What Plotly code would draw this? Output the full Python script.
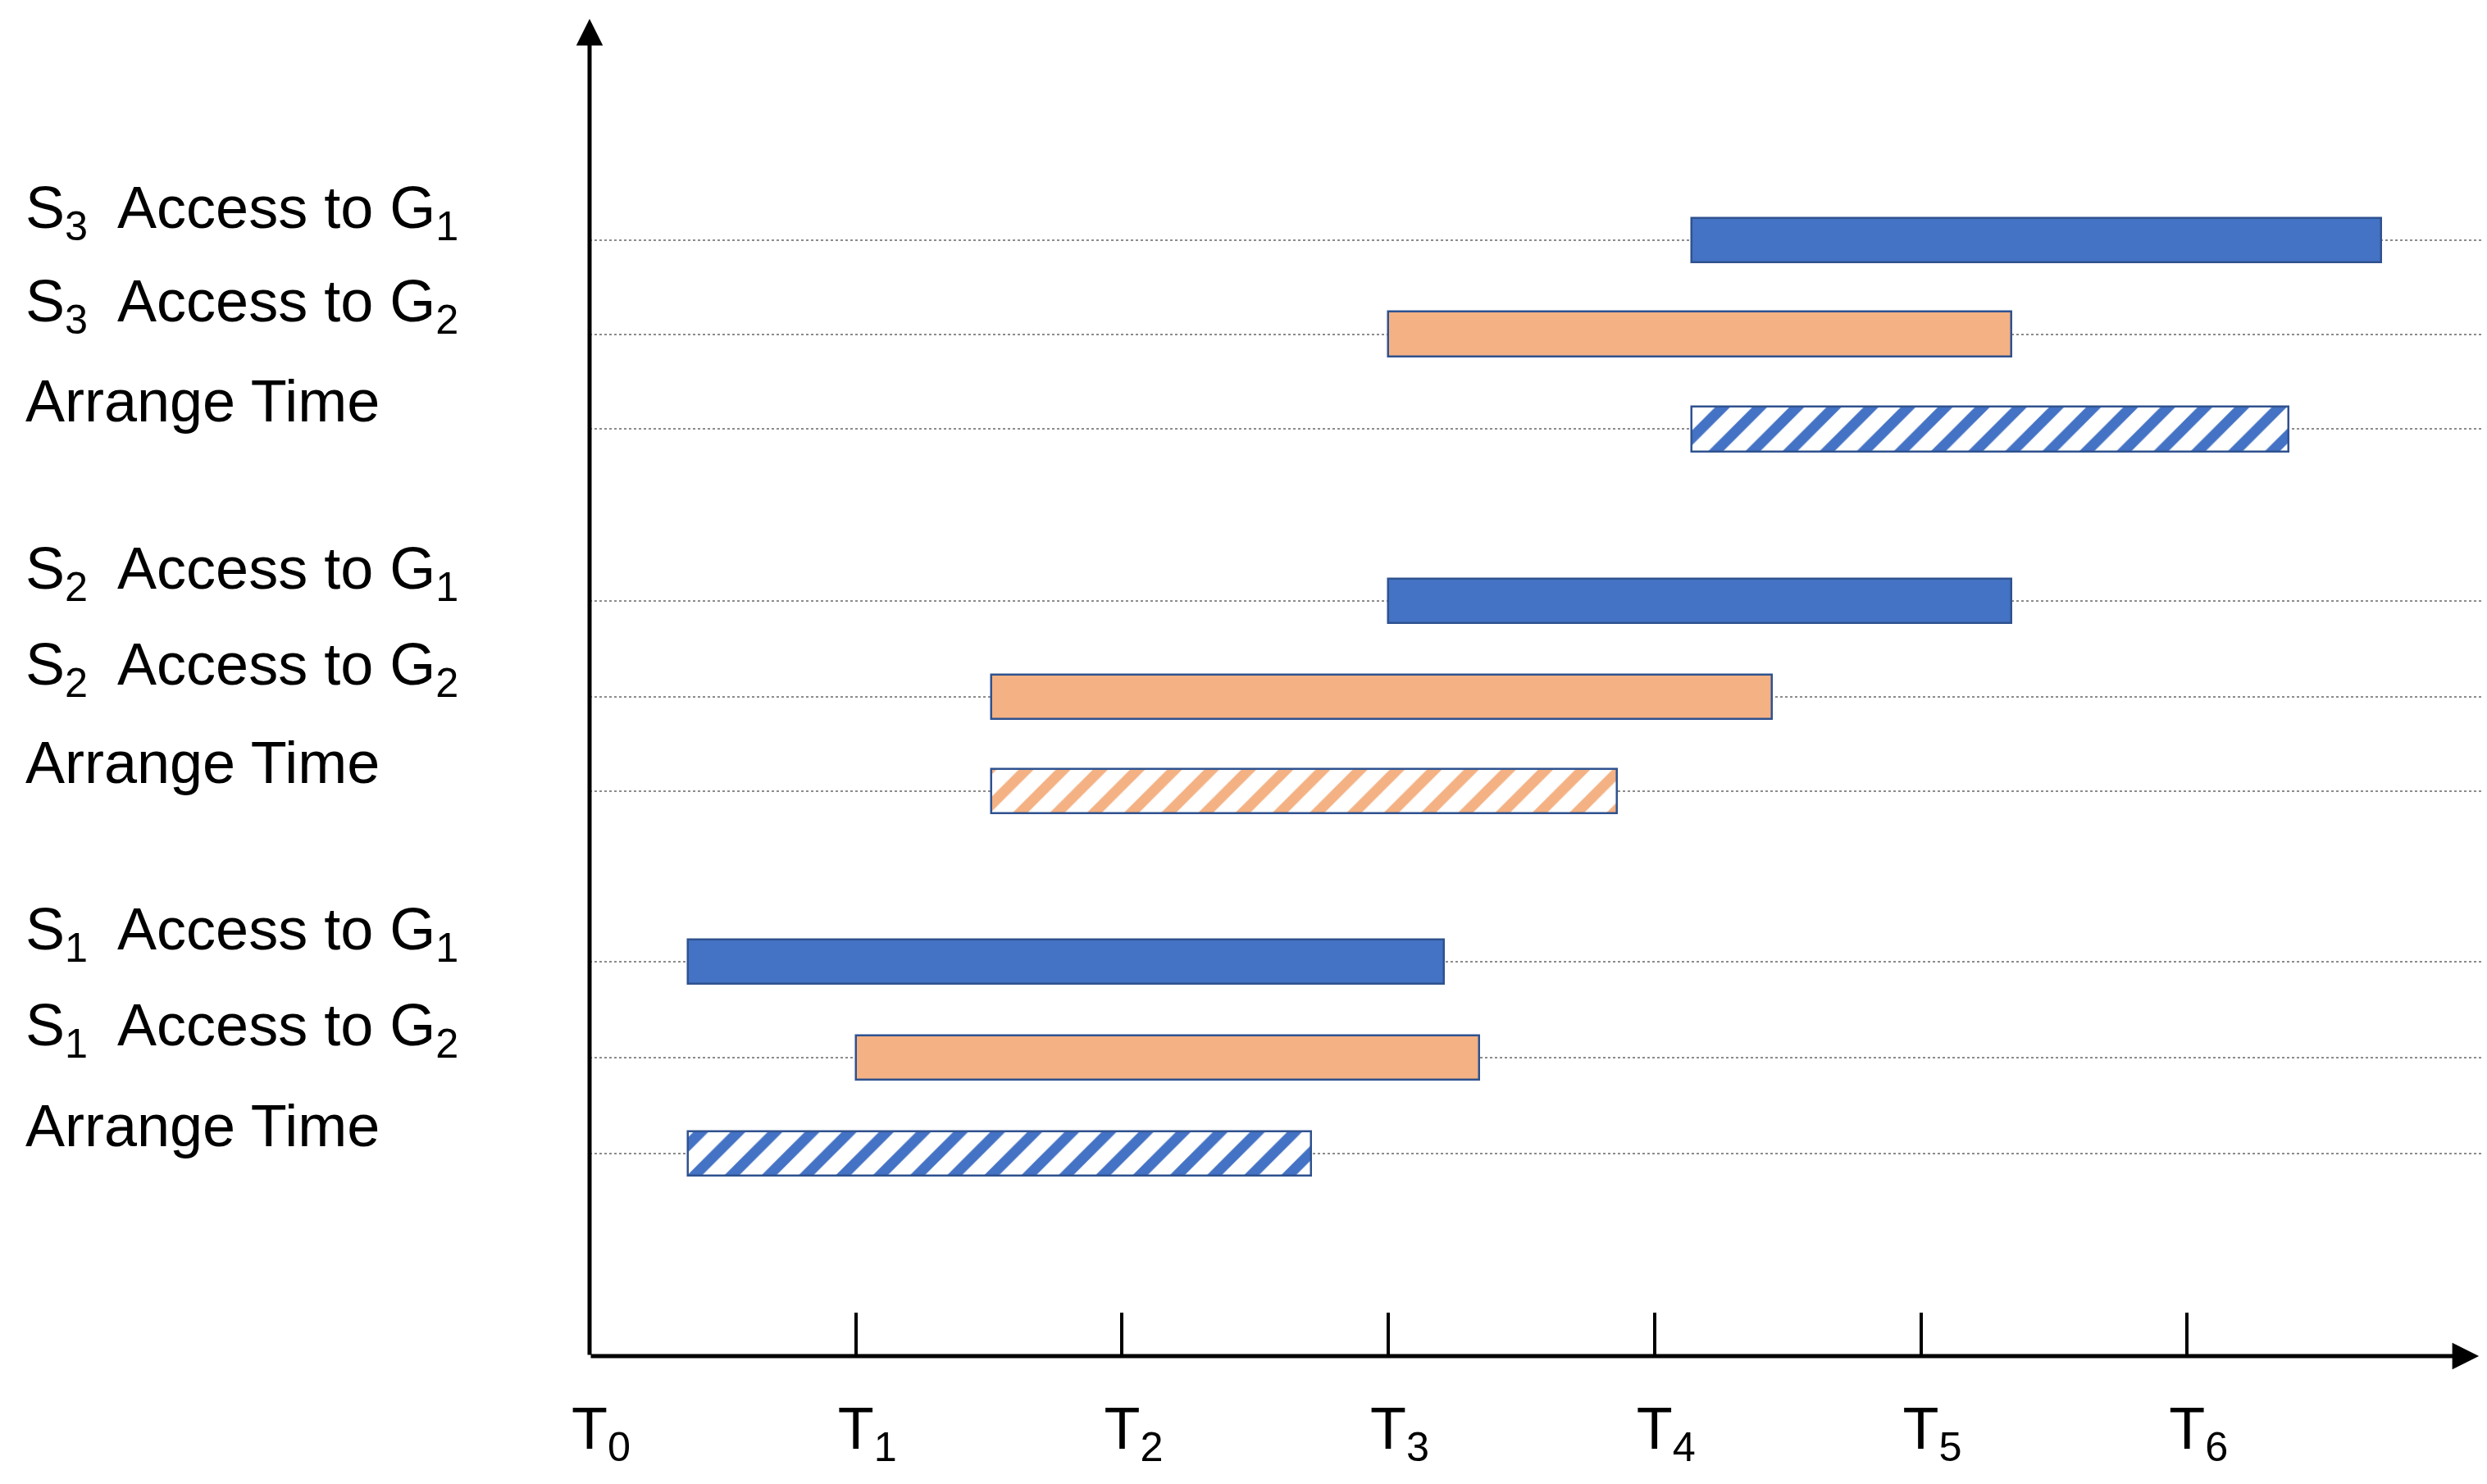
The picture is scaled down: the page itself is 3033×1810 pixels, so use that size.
import plotly.graph_objects as go

# ---- data ----
row_labels = [
    "S<sub>3</sub>  Access to G<sub>1</sub>",
    "S<sub>3</sub>  Access to G<sub>2</sub>",
    "Arrange Time",
    "S<sub>2</sub>  Access to G<sub>1</sub>",
    "S<sub>2</sub>  Access to G<sub>2</sub>",
    "Arrange Time",
    "S<sub>1</sub>  Access to G<sub>1</sub>",
    "S<sub>1</sub>  Access to G<sub>2</sub>",
    "Arrange Time",
]
row_pos = [11.75, 10.76, 9.76, 7.95, 6.94, 5.95, 4.15, 3.14, 2.13]
bar_start = [4.14, 3.00, 4.14, 3.00, 1.51, 1.51, 0.37, 1.00, 0.37]
bar_end = [6.73, 5.34, 6.38, 5.34, 4.44, 3.86, 3.21, 3.34, 2.71]
bar_kind = ["g1", "g2", "arr_blue", "g1", "g2", "arr_orange", "g1", "g2", "arr_blue"]

tick_vals = [0, 1, 2, 3, 4, 5, 6]
tick_text = ["T<sub>0</sub>", "T<sub>1</sub>", "T<sub>2</sub>", "T<sub>3</sub>",
             "T<sub>4</sub>", "T<sub>5</sub>", "T<sub>6</sub>"]

# ---- styles ----
BLUE = "#4472C4"
ORANGE = "#F4B183"
EDGE = "#2F528F"
W, H = 3033, 1810
ML, MR, MT, MB = 719, 6, 23, 156
X_MAX = 7.108
Y_MAX = 14.08
FONT = "Liberation Sans, Arial, sans-serif"


def hatch(col):
    return dict(color="white",
                pattern=dict(shape="/", fgcolor=col, bgcolor="white", fgopacity=1,
                             size=32, solidity=0.4, fillmode="replace"))


styles = {
    "g1": dict(color=BLUE),
    "g2": dict(color=ORANGE),
    "arr_blue": hatch(BLUE),
    "arr_orange": hatch(ORANGE),
}

fig = go.Figure()
for kind in ["g1", "g2", "arr_blue", "arr_orange"]:
    idx = [i for i, k in enumerate(bar_kind) if k == kind]
    fig.add_trace(go.Bar(
        orientation="h",
        y=[row_pos[i] for i in idx],
        base=[bar_start[i] for i in idx],
        x=[bar_end[i] - bar_start[i] for i in idx],
        width=0.47,
        marker=dict(line=dict(color=EDGE, width=2.5), **styles[kind]),
        showlegend=False,
        hoverinfo="skip",
    ))

# row labels
for lab, y in zip(row_labels, row_pos):
    fig.add_annotation(
        text=lab, xref="paper", yref="y", x=(29 - ML) / (W - ML - MR), y=y + 0.3,
        xanchor="left", yanchor="middle", showarrow=False,
        font=dict(family=FONT, size=72, color="black"),
    )

# axis arrows
fig.add_annotation(x=0, y=Y_MAX, ax=0, ay=0, xref="x", yref="y", axref="x", ayref="y",
                   text="", showarrow=True, arrowhead=2, arrowsize=1.3, arrowwidth=5,
                   arrowcolor="black")
fig.add_annotation(x=7.096, y=0, ax=0, ay=0, xref="x", yref="y", axref="x", ayref="y",
                   text="", showarrow=True, arrowhead=2, arrowsize=1.3, arrowwidth=5,
                   arrowcolor="black")

fig.update_layout(
    width=W, height=H,
    margin=dict(l=ML, r=MR, t=MT, b=MB),
    plot_bgcolor="white", paper_bgcolor="white",
    bargap=0,
)
fig.update_xaxes(
    range=[0, X_MAX], tickvals=tick_vals, ticktext=tick_text,
    showgrid=False, zeroline=False, showline=False,
    ticks="inside", ticklen=53, tickwidth=3.5, tickcolor="black",
    tickfont=dict(family=FONT, size=72, color="black"),
    ticklabelstandoff=40, ticklabelshift=14,
)
fig.update_yaxes(
    range=[0, Y_MAX], tickvals=row_pos, showticklabels=False,
    showgrid=True, gridcolor="#8c8c8c", griddash="dot", gridwidth=2,
    zeroline=False, showline=False, ticks="",
)

fig.write_html("out.html", config={"displayModeBar": False},
               post_script="document.body.style.margin='0';")
